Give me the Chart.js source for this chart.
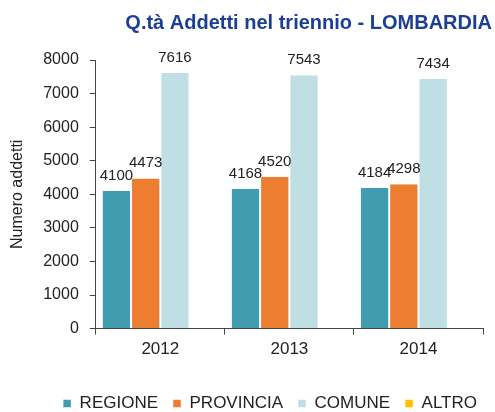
<!DOCTYPE html>
<html>
<head>
<meta charset="utf-8">
<script src="https://cdn.jsdelivr.net/npm/chart.js@4/dist/chart.umd.min.js"></script>
<style>
  html, body { margin: 0; padding: 0; background: #fff; }
  #wrap { width: 495px; height: 412px; }
</style>
</head>
<body>
<div id="wrap"><canvas id="myChart"></canvas></div>
<script>
var years = ["2012", "2013", "2014"];
var regione = [4100, 4168, 4184];
var provincia = [4473, 4520, 4298];
var comune = [7616, 7543, 7434];
var altro = [null, null, null];

var yTicks = [0, 1000, 2000, 3000, 4000, 5000, 6000, 7000, 8000];

var FONT = "Arial, 'Liberation Sans', sans-serif";

// scrive il valore sopra ogni barra
var valueLabels = {
	id: "valueLabels",
	afterDatasetsDraw: function(chart) {
		var ctx = chart.ctx;
		ctx.save();
		ctx.font = "15px " + FONT;
		ctx.fillStyle = "#222";
		ctx.textAlign = "center";
		ctx.textBaseline = "alphabetic";
		chart.data.datasets.forEach(function(ds, i) {
			var meta = chart.getDatasetMeta(i);
			meta.data.forEach(function(bar, j) {
				var v = ds.data[j];
				if (v === null) return;
				ctx.fillText(v, bar.x, bar.y - 11);
			});
		});
		ctx.restore();
	}
};

var ctx = document.getElementById("myChart").getContext("2d");
var myChart = new Chart(ctx, {
	type: "bar",
	data: {
		labels: years,
		datasets: [
			{ label: "REGIONE", data: regione, backgroundColor: "#409cae" },
			{ label: "PROVINCIA", data: provincia, backgroundColor: "#ed7d31" },
			{ label: "COMUNE", data: comune, backgroundColor: "#bfdfe4" },
			{ label: "ALTRO", data: altro, backgroundColor: "#ffc000" }
		]
	},
	options: {
		responsive: true,
		maintainAspectRatio: false,
		animation: false,
		datasets: {
			bar: {
				categoryPercentage: 0.907,
				barPercentage: 1.0,
				borderColor: "#ffffff",
				borderWidth: { left: 1, right: 1, top: 0, bottom: 0 },
				borderSkipped: "bottom"
			}
		},
		layout: { padding: { left: 3, right: 3, top: 0, bottom: -10 } },
		plugins: {
			title: {
				display: true,
				text: "Q.tà Addetti nel triennio - LOMBARDIA",
				align: "end",
				color: "#1d3f93",
				font: { family: FONT, size: 20, weight: "bold" },
				padding: { top: 11, bottom: 25 }
			},
			legend: {
				position: "bottom",
				align: "end",
				labels: {
					color: "#222",
					font: { family: FONT, size: 17 },
					boxWidth: 8,
					boxHeight: 8,
					padding: 15
				}
			},
			tooltip: { enabled: false }
		},
		scales: {
			x: {
				grid: {
					display: true,
					offset: true,
					drawOnChartArea: false,
					drawTicks: true,
					tickLength: 6,
					color: "#444"
				},
				border: { display: true, color: "#444" },
				ticks: {
					color: "#222",
					font: { family: FONT, size: 17 },
					padding: 5
				},
				afterFit: function(axis) { axis.height += 15; }
			},
			y: {
				min: 0,
				max: 8000,
				afterBuildTicks: function(axis) {
					axis.ticks = yTicks.map(function(v) { return { value: v }; });
				},
				grid: {
					display: true,
					drawOnChartArea: false,
					drawTicks: true,
					tickLength: 6,
					color: "#444"
				},
				border: { display: true, color: "#444" },
				ticks: {
					color: "#222",
					font: { family: FONT, size: 16 },
					padding: 11,
					callback: function(v) { return String(v); }
				},
				title: {
					display: true,
					text: "Numero addetti",
					color: "#222",
					font: { family: FONT, size: 16 },
					padding: { top: 5, bottom: 5 }
				}
			},
			// spazio vuoto a destra dell'area del grafico
			spacer: {
				type: "linear",
				position: "right",
				display: true,
				grid: { display: false },
				border: { display: false },
				ticks: { display: false },
				afterFit: function(axis) { axis.width = 9; }
			}
		}
	},
	plugins: [valueLabels]
});
</script>
</body>
</html>
